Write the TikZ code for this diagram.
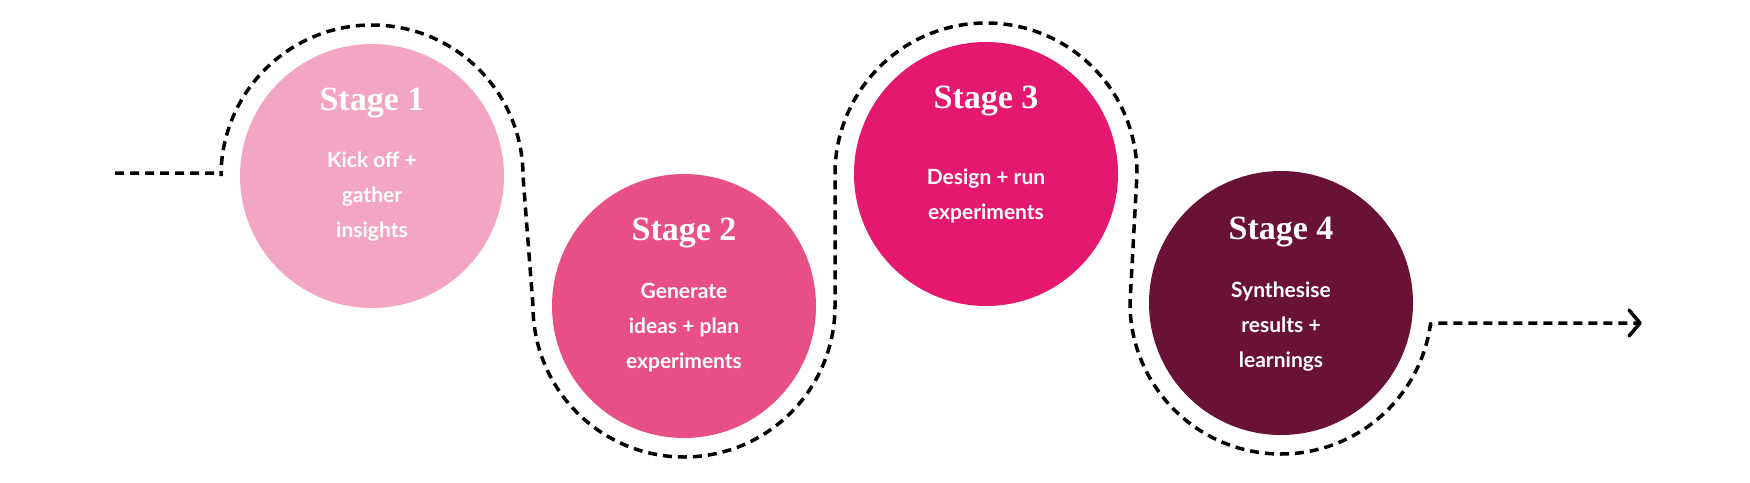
\documentclass[tikz,border=0pt]{standalone}
\usepackage{fontspec}
\setmainfont{Lato}
\newfontfamily\headfont{Liberation Serif}
\usetikzlibrary{arrows.meta,calc}
\definecolor{cA}{HTML}{F2A6C4}
\definecolor{cB}{HTML}{E94F87}
\definecolor{cC}{HTML}{E5186F}
\definecolor{cD}{HTML}{6A1236}
\begin{document}
\begin{tikzpicture}[x=1pt,y=-1pt,
  stagecirc/.style={circle,minimum size=264pt,inner sep=0pt},
  headtxt/.style={text=white,font=\headfont\bfseries\fontsize{34}{36}\selectfont},
  bodytxt/.style={text=white,align=center,font=\bfseries\fontsize{21}{35}\selectfont},
  path/.style={line width=3.5pt,dash pattern=on 9pt off 6pt}]
\useasboundingbox (0,0) rectangle (1750,482);
\node[stagecirc,fill=cA] (s1) at (372,176) {};
\node[stagecirc,fill=cB] (s2) at (684,306) {};
\node[stagecirc,fill=cC] (s3) at (986,174) {};
\node[stagecirc,fill=cD] (s4) at (1281,303) {};
\node[headtxt] (h1) at ($(s1)+(0,-73)$) {Stage 1};
\node[headtxt] (h2) at ($(s2)+(0,-73)$) {Stage 2};
\node[headtxt] (h3) at ($(s3)+(0,-73)$) {Stage 3};
\node[headtxt] (h4) at ($(s4)+(0,-71)$) {Stage 4};
\node[bodytxt] (b1) at ($(s1)+(0,21)$) {Kick off +\\gather\\insights};
\node[bodytxt] (b2) at ($(s2)+(0,22)$) {Generate\\ideas + plan\\experiments};
\node[bodytxt] (b3) at ($(s3)+(0,22)$) {Design + run\\experiments};
\node[bodytxt] (b4) at ($(s4)+(0,24)$) {Synthesise\\results +\\learnings};
\coordinate (st) at (115,173);
\coordinate (en) at (1640,323);
\draw[path] (st) -- (221,173) -- (221,176) arc[start angle=180,end angle=360,radius=151]
  -- (533,306) arc[start angle=180,end angle=0,radius=151]
  -- (835,174) arc[start angle=180,end angle=360,radius=151]
  -- (1130,303) arc[start angle=180,end angle=8,radius=151]
  -- (1437,323) -- (en);
\draw[line width=3.5pt,line cap=round,line join=round] ($(en)+(-11,-13)$) -- (en) -- ($(en)+(-11,13)$);
\end{tikzpicture}
\end{document}
